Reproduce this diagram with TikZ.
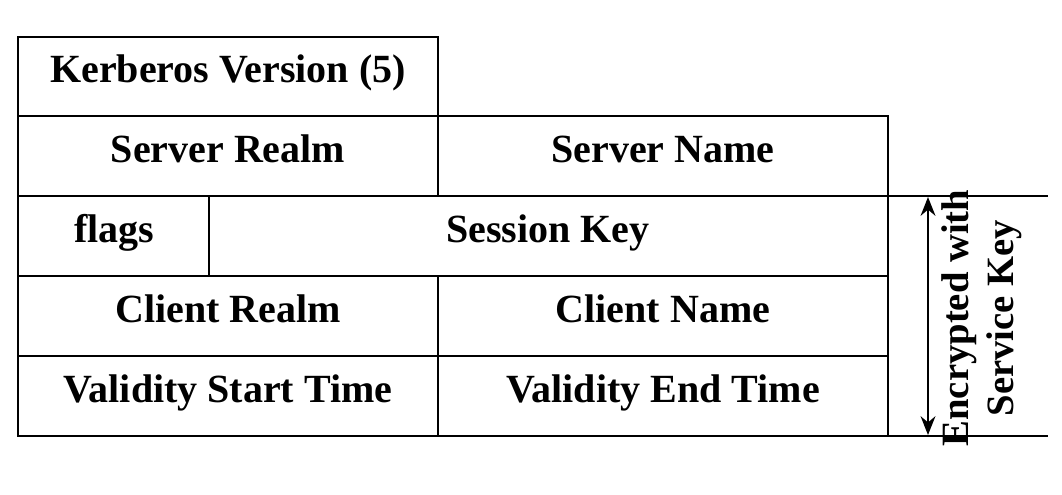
\documentclass[tikz,border=0pt]{standalone}
\usepackage{fontspec}
\setmainfont{Liberation Serif}
\usetikzlibrary{arrows.meta}
\begin{document}
\begin{tikzpicture}[x=0.75pt,y=-0.75pt,
  cell/.style={draw=black,line width=1.6pt},
  field/.style={anchor=base,font=\fontsize{30}{34}\selectfont\bfseries,inner sep=0pt},
  rule/.style={draw=black,line width=1.4pt},
  span/.style={draw=black,line width=2.2pt,{Stealth[length=14pt,width=11pt]}-{Stealth[length=14pt,width=11pt]}}]
\useasboundingbox[fill=white] (0,0) rectangle (1062,494);

% ticket layout: one row per field group
\draw[cell] (18,37)  rectangle (438,116);
\draw[cell] (18,116) rectangle (438,196);
\draw[cell] (438,116) rectangle (888,196);
\draw[cell] (18,196) rectangle (209,276);
\draw[cell] (209,196) rectangle (888,276);
\draw[cell] (18,276) rectangle (438,356);
\draw[cell] (438,276) rectangle (888,356);
\draw[cell] (18,356) rectangle (438,436);
\draw[cell] (438,356) rectangle (888,436);

% field names
\node[field] (ver)    at (228,82)  {Kerberos Version (5)};
\node[field] (srealm) at (228,162) {Server Realm};
\node[field] (sname)  at (663,162) {Server Name};
\node[field] (flags)  at (114,242) {flags};
\node[field] (skey)   at (548,242) {Session Key};
\node[field] (crealm) at (228,322) {Client Realm};
\node[field] (cname)  at (663,322) {Client Name};
\node[field] (vstart) at (228,402) {Validity Start Time};
\node[field] (vend)   at (663,402) {Validity End Time};

% extent of the encrypted part
\coordinate (toprule0) at (888,196);
\coordinate (toprule1) at (1048,196);
\coordinate (botrule0) at (888,436);
\coordinate (botrule1) at (1048,436);
\draw[rule] (toprule0) -- (toprule1);
\draw[rule] (botrule0) -- (botrule1);
\coordinate (enctop) at (928,197);
\coordinate (encbot) at (928,435);
\draw[span] (enctop) -- (encbot);
\node[field,anchor=center,rotate=90,align=center,
      font=\fontsize{29}{34}\selectfont\bfseries] (enc) at (982,318)
  {Encrypted with\\Service Key};
\end{tikzpicture}
\end{document}
